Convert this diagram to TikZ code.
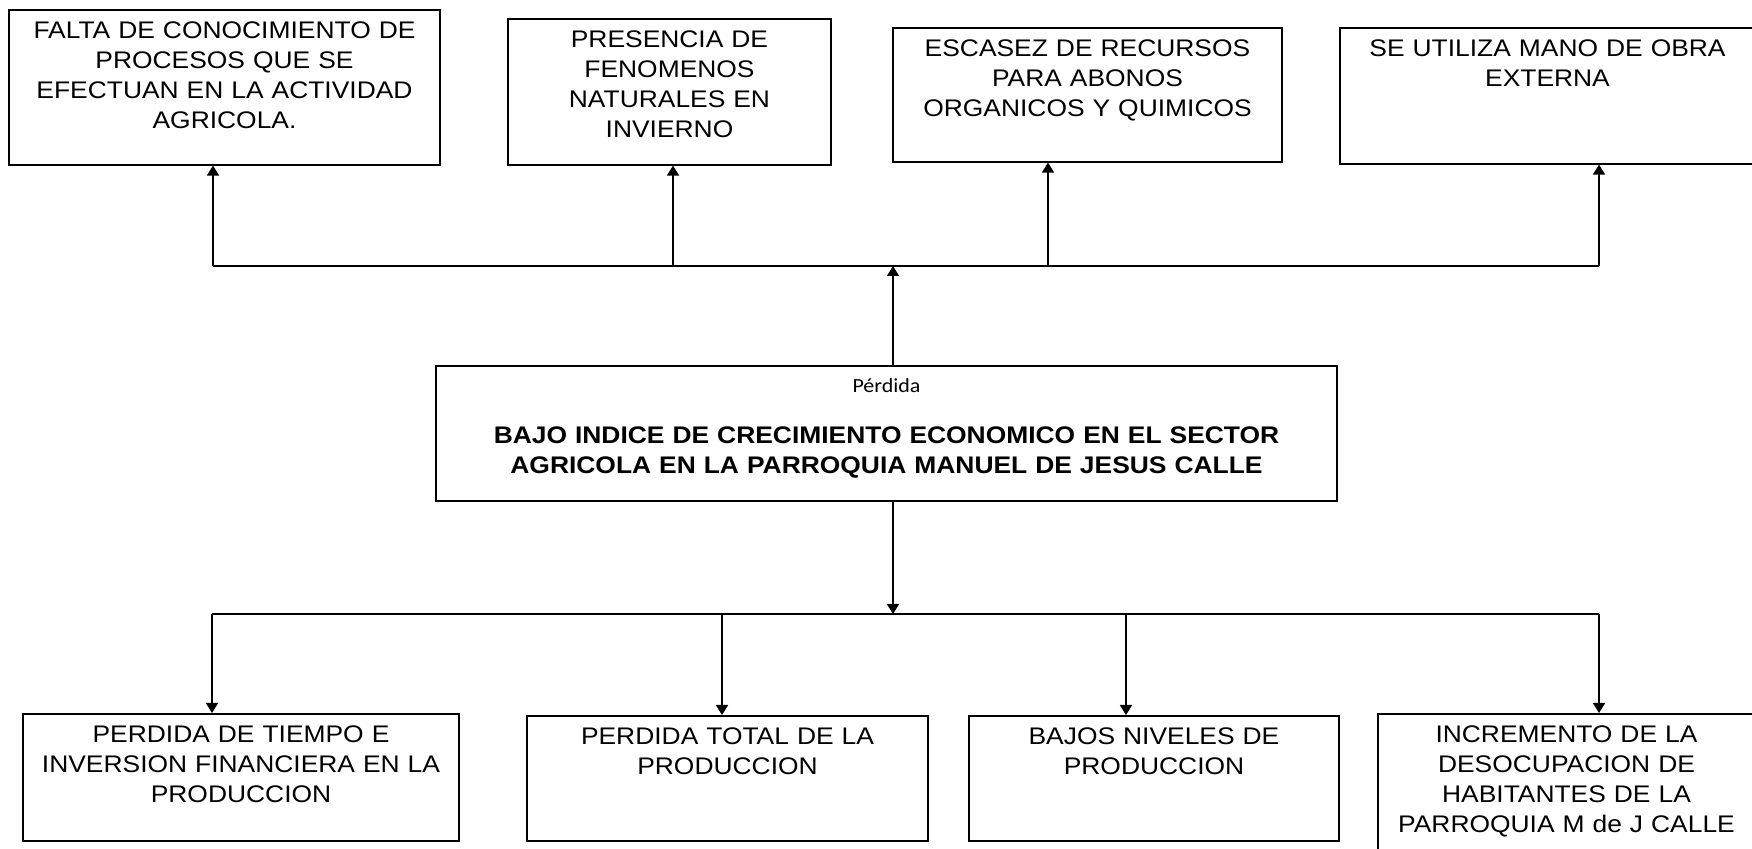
\documentclass[tikz,border=0pt]{standalone}
\usepackage{fontspec}
\setmainfont{Liberation Sans}[FakeStretch=1.1]
\newfontfamily\perdidafont{Carlito}[FakeStretch=1.1]
\usetikzlibrary{arrows.meta}

\begin{document}
\begin{tikzpicture}[x=0.5pt,y=-0.5pt,
   caja/.style={draw,line width=0.8pt,anchor=north,align=center,
      inner xsep=4pt,inner ysep=4.5pt,text height=10pt,
      font=\fontsize{12}{15}\selectfont},
   perdida/.style={anchor=north,inner xsep=0pt,inner ysep=6.5pt,
      text height=7pt,text depth=0pt,font=\perdidafont\fontsize{10}{12}\selectfont},
   flecha/.style={-{Triangle[length=5pt,width=6pt]},line width=0.8pt},
   linea/.style={line width=0.8pt}]
   \useasboundingbox (0,0) rectangle (1752,849);
   % causas
   \node[caja,text width=207.5pt,text depth=58.5pt] (c_1) at (224.5,9)
      {FALTA DE CONOCIMIENTO DE\\ PROCESOS QUE SE\\ EFECTUAN EN LA ACTIVIDAD\\ AGRICOLA.};
   \node[caja,text width=153.5pt,text depth=54pt] (c_2) at (669.5,18)
      {PRESENCIA DE\\ FENOMENOS\\ NATURALES EN\\ INVIERNO};
   \node[caja,text width=186.5pt,text depth=48pt] (c_3) at (1087.5,27)
      {ESCASEZ DE RECURSOS\\ PARA ABONOS\\ ORGANICOS Y QUIMICOS};
   \node[caja,text width=199.5pt,text depth=49pt] (c_4) at (1547.5,27)
      {SE UTILIZA MANO DE OBRA\\ EXTERNA};
   % problema
   \node[caja,font=\bfseries\fontsize{12}{15}\selectfont,text width=442.5pt,
      text height=34.25pt,text depth=24.25pt,
      label={[perdida]north:Pérdida}] (p) at (886.5,365)
      {BAJO INDICE DE CRECIMIENTO ECONOMICO EN EL SECTOR\\
       AGRICOLA EN LA PARROQUIA MANUEL DE JESUS CALLE};
   % efectos
   \node[caja,text width=210pt,text depth=44.5pt] (e_1) at (241,713)
      {PERDIDA DE TIEMPO E\\ INVERSION FINANCIERA EN LA\\ PRODUCCION};
   \node[caja,text width=192.5pt,text depth=43.5pt] (e_2) at (727.5,715)
      {PERDIDA TOTAL DE LA\\ PRODUCCION};
   \node[caja,text width=177pt,text depth=43.5pt] (e_3) at (1154,715)
      {BAJOS NIVELES DE\\ PRODUCCION};
   \node[caja,text width=180.5pt,text depth=52pt] (e_4) at (1566.5,713)
      {INCREMENTO DE LA\\ DESOCUPACION DE\\ HABITANTES DE LA\\ PARROQUIA M de J CALLE};

   \coordinate (b_0) at (893,266);
   \coordinate (b_1) at (213,266);
   \coordinate (b_2) at (673,266);
   \coordinate (b_3) at (1048,266);
   \coordinate (b_4) at (1599,266);
   \coordinate (d_0) at (893,614);
   \coordinate (d_1) at (212,614);
   \coordinate (d_2) at (722,614);
   \coordinate (d_3) at (1126,614);
   \coordinate (d_4) at (1599,614);

   \draw[linea] (b_1) -- (b_4);
   \draw[linea] (d_1) -- (d_4);
   \path[flecha]
   (b_0 |- p.north) edge (b_0)
   (b_1) edge (b_1 |- c_1.south)
   (b_2) edge (b_2 |- c_2.south)
   (b_3) edge (b_3 |- c_3.south)
   (b_4) edge (b_4 |- c_4.south)
   (d_0 |- p.south) edge (d_0)
   (d_1) edge (d_1 |- e_1.north)
   (d_2) edge (d_2 |- e_2.north)
   (d_3) edge (d_3 |- e_3.north)
   (d_4) edge (d_4 |- e_4.north);
\end{tikzpicture}
\end{document}
